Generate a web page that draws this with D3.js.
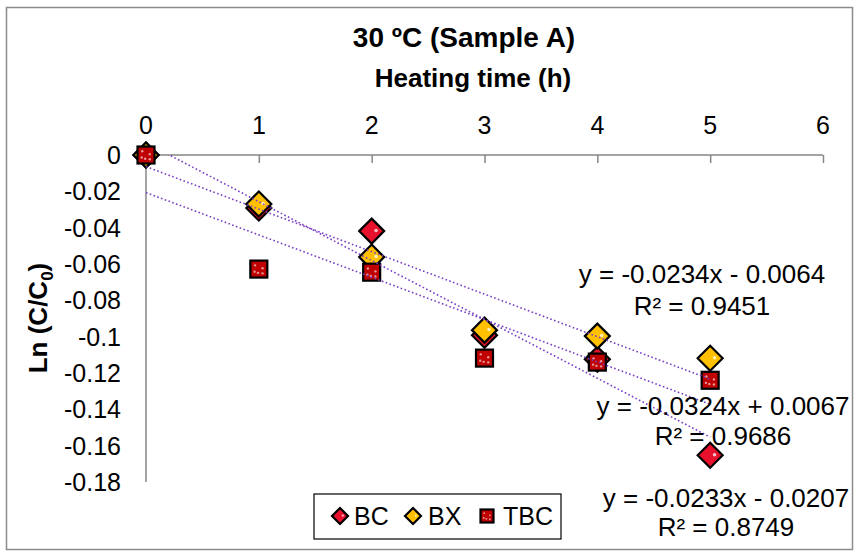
<!DOCTYPE html>
<html>
<head>
<meta charset="utf-8">
<script src="https://cdn.jsdelivr.net/npm/d3@7/dist/d3.min.js"></script>
<style>
  html, body { margin: 0; padding: 0; background: #fff; }
  svg { display: block; font-family: "Liberation Sans", Arial, sans-serif; }
</style>
</head>
<body>
<svg id="chart" width="856" height="553"></svg>
<script>
// Heating time (h)
const hours = [0, 1, 2, 3, 4, 5];
// Ln(C/C0) per series
const bcValues  = [0, -0.0292, -0.0419, -0.0992, -0.1124, -0.1653];
const bxValues  = [0, -0.0270, -0.0562, -0.0964, -0.0997, -0.1119];
const tbcValues = [0, -0.0628, -0.0645, -0.1118, -0.1140, -0.1240];
const seriesNames = ["BC", "BX", "TBC"];
// Linear trendlines (slope, intercept, R²) in series order
const trendSlopes = [-0.0324, -0.0234, -0.0233];
const trendIntercepts = [0.0067, -0.0064, -0.0207];
const trendR2 = ["0.9686", "0.9451", "0.8749"];
// Axis ticks
const xTicks = [0, 1, 2, 3, 4, 5, 6];
const yTicks = [0, -0.02, -0.04, -0.06, -0.08, -0.1, -0.12, -0.14, -0.16, -0.18];

const svg = d3.select("#chart");
const plotLeft = 146, plotRight = 823, plotTop = 155, plotBottom = 482;

const x = d3.scaleLinear().domain([0, 6]).range([plotLeft, plotRight]);
const y = d3.scaleLinear().domain([-0.18, 0]).range([plotBottom, plotTop]);

// outer chart frame
svg.append("rect").attr("x", 6.5).attr("y", 7.5).attr("width", 846).attr("height", 542)
  .attr("fill", "#fff").attr("stroke", "#8c8c8c").attr("stroke-width", 1.5);

// titles
svg.append("text").attr("x", 464).attr("y", 47).attr("text-anchor", "middle")
  .attr("font-size", 28).attr("font-weight", "bold").text("30 ºC (Sample A)");
svg.append("text").attr("x", 473).attr("y", 87).attr("text-anchor", "middle")
  .attr("font-size", 26).attr("font-weight", "bold").text("Heating time (h)");

const yTitle = svg.append("text")
  .attr("transform", "translate(47,318) rotate(-90)")
  .attr("text-anchor", "middle").attr("font-size", 26).attr("font-weight", "bold");
yTitle.append("tspan").text("Ln (C/C");
yTitle.append("tspan").attr("font-size", 17).attr("dy", 6).text("0");
yTitle.append("tspan").attr("dy", -6).text(")");

// x axis along y = 0 at the top of the plot
const xAxis = d3.axisBottom(x).tickValues(xTicks).tickSize(8).tickFormat("");
const gx = svg.append("g").attr("transform", `translate(0,${y(0)})`).call(xAxis);
gx.select(".domain").attr("stroke", "#868686").attr("stroke-width", 1.5)
  .attr("d", `M${plotLeft},0H${plotRight}`);
gx.selectAll(".tick line").attr("stroke", "#868686").attr("stroke-width", 1.5);
svg.append("g").selectAll("text").data(xTicks).join("text")
  .attr("x", d => x(d)).attr("y", 134).attr("text-anchor", "middle")
  .attr("font-size", 25).text(d => d3.format("d")(d));

// y axis without tick marks
const yAxis = d3.axisLeft(y).tickValues(yTicks).tickSize(0).tickFormat("");
const gy = svg.append("g").attr("transform", `translate(${x(0)},0)`).call(yAxis);
gy.select(".domain").attr("stroke", "#868686").attr("stroke-width", 1.5)
  .attr("d", `M0,${plotTop}V${plotBottom}`);
svg.append("g").selectAll("text").data(yTicks).join("text")
  .attr("x", 121).attr("y", d => y(d)).attr("dy", "0.36em").attr("text-anchor", "end")
  .attr("font-size", 25).text(d => d === 0 ? "0" : String(+d.toFixed(2)));

// marker shapes
const colors = { BC: "#e8112d", BX: "#ffc000", TBC: "#c00000" };
function diamond(g, cx, cy, h, fill) {
  g.append("path").attr("d", `M${cx},${cy - h}L${cx + h},${cy}L${cx},${cy + h}L${cx - h},${cy}Z`)
    .attr("fill", fill).attr("stroke", "#000").attr("stroke-width", 2.2).attr("stroke-linejoin", "miter");
  g.append("circle").attr("cx", cx + h * 0.35).attr("cy", cy - h * 0.05).attr("r", h * 0.14)
    .attr("fill", "#fff").attr("opacity", 0.75);
}
function square(g, cx, cy, s, fill) {
  g.append("rect").attr("x", cx - s / 2).attr("y", cy - s / 2).attr("width", s).attr("height", s)
    .attr("fill", fill).attr("stroke", "#000").attr("stroke-width", 2.2);
  [[-0.22, -0.22], [0.22, -0.05], [-0.05, 0.22], [0.22, 0.25], [-0.25, 0.15]].forEach(([dx, dy]) => {
    g.append("circle").attr("cx", cx + dx * s).attr("cy", cy + dy * s).attr("r", s * 0.07)
      .attr("fill", "#fff").attr("opacity", 0.6);
  });
}

const seriesValues = [bcValues, bxValues, tbcValues];
const marks = svg.append("g");
seriesValues.forEach((vals, i) => {
  const name = seriesNames[i];
  vals.forEach((v, j) => {
    if (name === "TBC") square(marks, x(hours[j]), y(v), 17, colors[name]);
    else diamond(marks, x(hours[j]), y(v), 12.5, colors[name]);
  });
});

// dotted linear trendlines, clipped to the plot area
svg.append("clipPath").attr("id", "plotClip").append("rect")
  .attr("x", plotLeft).attr("y", plotTop).attr("width", plotRight - plotLeft).attr("height", plotBottom - plotTop);
const trend = svg.append("g").attr("clip-path", "url(#plotClip)");
const line = d3.line().x(d => x(d[0])).y(d => y(d[1]));
trendSlopes.forEach((m, i) => {
  const b = trendIntercepts[i];
  trend.append("path").datum([[0, b], [5, m * 5 + b]]).attr("d", line)
    .attr("fill", "none").attr("stroke", "#7b3fc4").attr("stroke-width", 1.6)
    .attr("stroke-dasharray", "1.6,2.4");
});

// trendline equations
const fmt4 = v => Math.abs(v).toFixed(4);
const eqPos = [[723, 415, 445], [702, 283, 315], [726, 507, 536]];
trendSlopes.forEach((m, i) => {
  const b = trendIntercepts[i];
  const [cx, y1, y2] = eqPos[i];
  svg.append("text").attr("x", cx).attr("y", y1).attr("text-anchor", "middle").attr("font-size", 26)
    .text(`y = ${m < 0 ? "-" : ""}${fmt4(m)}x ${b < 0 ? "-" : "+"} ${fmt4(b)}`);
  svg.append("text").attr("x", cx).attr("y", y2).attr("text-anchor", "middle").attr("font-size", 26)
    .text(`R² = ${trendR2[i]}`);
});

// legend
const lg = svg.append("g");
lg.append("rect").attr("x", 314).attr("y", 494).attr("width", 247).attr("height", 45)
  .attr("fill", "#fff").attr("stroke", "#000").attr("stroke-width", 1.2);
const legendX = [[340, 354], [413, 428], [487, 503]];
seriesNames.forEach((name, i) => {
  const [mx, tx] = legendX[i];
  if (name === "TBC") square(lg, mx, 516, 13, colors[name]);
  else diamond(lg, mx, 516, 8, colors[name]);
  lg.append("text").attr("x", tx).attr("y", 525).attr("font-size", 25).text(name);
});
</script>
</body>
</html>
